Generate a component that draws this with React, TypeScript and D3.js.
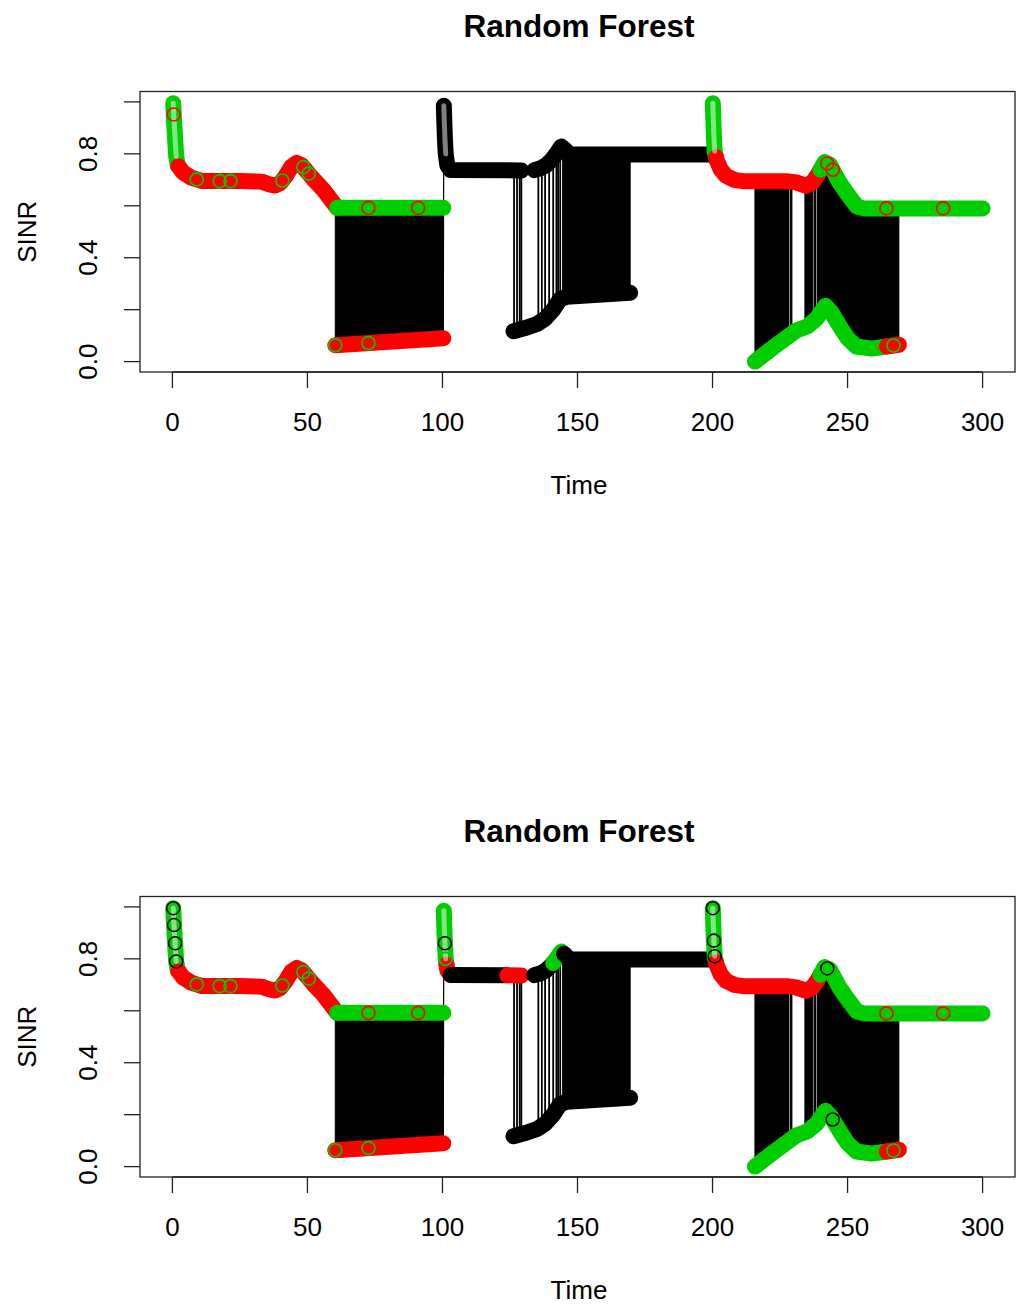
import React from 'react';
import * as d3 from 'd3';

const W = 1019;
const H = 1306;
const RED = '#ff0000';
const GREEN = '#00cd00';
const BLACK = '#000000';

const xTicks = [0, 50, 100, 150, 200, 250, 300];
const yTicks = [0, 0.2, 0.4, 0.6, 0.8, 1.0];
const yLabelTicks = [0, 0.4, 0.8];

type Pt = [number, number];

// upper SINR level, [time, SINR], one array per continuous stretch
const upperA: Pt[] = [[0.3, 0.995], [0.6, 0.93], [1.0, 0.86], [1.4, 0.79], [2, 0.755], [4, 0.728], [7, 0.708], [11, 0.695], [25, 0.695], [33, 0.693], [36, 0.682], [38, 0.678], [40, 0.688], [42, 0.715], [44, 0.75], [46, 0.765], [48, 0.755], [52, 0.705], [56, 0.66], [61, 0.592], [100.3, 0.592]];
const upperB: Pt[] = [[100.5, 0.985], [100.7, 0.92], [100.9, 0.86], [101.2, 0.8], [101.8, 0.755], [103, 0.738], [129.2, 0.736]];
const upperC: Pt[] = [[134, 0.737], [136.5, 0.745], [138.5, 0.757], [140.5, 0.777], [142.5, 0.805], [144, 0.828], [145.5, 0.815], [147, 0.797], [199.6, 0.797]];
const upperD: Pt[] = [[200.1, 0.995], [200.3, 0.93], [200.5, 0.87], [200.8, 0.81], [201.5, 0.777], [203, 0.74], [205, 0.715], [208, 0.7], [212, 0.694], [228, 0.694], [231, 0.69], [234.5, 0.677], [237, 0.69], [239, 0.72], [241.5, 0.768], [243.5, 0.758], [247, 0.69], [250, 0.645], [253.5, 0.597], [256, 0.59], [300, 0.59]];

// lower SINR level
const lowerA: Pt[] = [[60.3, 0.063], [100.3, 0.09]];
const lowerB: Pt[] = [[126.3, 0.117], [131, 0.13], [135, 0.145], [138, 0.165], [141, 0.2], [143.5, 0.24], [146, 0.25], [169.5, 0.265]];
const lowerC: Pt[] = [[215.7, 0.0], [222.5, 0.055], [231, 0.12], [235, 0.135], [238.5, 0.165], [241.8, 0.215], [244, 0.19], [247.2, 0.135], [250, 0.09], [253.3, 0.058], [259, 0.05], [269, 0.065]];

const upperPieces = [upperA, upperB, upperC, upperD];
const lowerPieces = [lowerA, lowerB, lowerC];

// stretches where the series switches between levels every step
const denseSpans: Pt[] = [[60.3, 100.3], [144.5, 169.5], [215.7, 228.3], [228.9, 229.4], [234.2, 237.1], [237.6, 238.3], [238.9, 269]];
// single switches
const switchTimes = [126.5, 127.6, 128.6, 129.2, 135.5, 136.8, 138, 139.5, 141, 142.2, 142.8, 143.6];
// jumps between stretches
const jumps: [Pt, Pt][] = [[[100.3, 0.09], [100.5, 0.985]], [[199.6, 0.797], [200.1, 0.995]], [[129.2, 0.736], [134, 0.737]]];

type Run = [number, number, string];
// colour runs, [from, to, colour]
const upperColors1: Run[] = [[0, 2.2, GREEN], [2.2, 61, RED], [61, 100.3, GREEN], [100.4, 199.7, BLACK], [200, 201.3, GREEN], [201.3, 240, RED], [240, 300, GREEN]];
const lowerColors1: Run[] = [[60, 100.3, RED], [126, 170, BLACK], [215, 264.5, GREEN], [264.5, 270, RED]];
const upperColors2: Run[] = [[0, 2.2, GREEN], [2.2, 61, RED], [61, 100.3, GREEN], [100.4, 101.5, GREEN], [101.5, 103, RED], [103, 124, BLACK], [124, 129.5, RED], [134, 141, BLACK], [141, 145, GREEN], [145, 199.7, BLACK], [200, 201.3, GREEN], [201.3, 240, RED], [240, 300, GREEN]];
const lowerColors2 = lowerColors1;

type Accent = ['u' | 'l', number, string];
// single circles of another colour on top of the band
const accents1: Accent[] = [['u', 0.5, RED], ['u', 9, GREEN], ['u', 17.5, GREEN], ['u', 21.5, GREEN], ['u', 40.7, GREEN], ['u', 48.5, GREEN], ['u', 50.5, GREEN], ['u', 72.6, RED], ['u', 91, RED], ['u', 242.5, RED], ['u', 244.5, RED], ['u', 264.4, RED], ['u', 285.4, RED], ['u', 203, RED], ['l', 60.3, GREEN], ['l', 72.6, GREEN], ['l', 267, GREEN]];
const accents2: Accent[] = [['u', 0.3, BLACK], ['u', 0.6, BLACK], ['u', 1.0, BLACK], ['u', 1.4, BLACK], ['u', 9, GREEN], ['u', 17.5, GREEN], ['u', 21.5, GREEN], ['u', 40.7, GREEN], ['u', 48.5, GREEN], ['u', 50.5, GREEN], ['u', 72.6, RED], ['u', 91, RED], ['u', 100.9, BLACK], ['u', 101.2, GREEN], ['u', 126, RED], ['u', 200.1, BLACK], ['u', 200.5, BLACK], ['u', 200.8, BLACK], ['u', 242.5, BLACK], ['u', 264.4, RED], ['u', 285.4, RED], ['l', 60.3, GREEN], ['l', 72.6, GREEN], ['l', 244.5, BLACK], ['l', 267, GREEN]];

const panels = [
  { dy: 0, upperColors: upperColors1, lowerColors: lowerColors1, accents: accents1 },
  { dy: 805, upperColors: upperColors2, lowerColors: lowerColors2, accents: accents2 },
];

const x = d3.scaleLinear().domain([-12, 312]).range([140, 1015]);
const y = d3.scaleLinear().domain([-0.04, 1.04]).range([372, 91.5]);

const findPiece = (pieces: Pt[][], t: number) =>
  pieces.find(p => t >= p[0][0] - 1e-9 && t <= p[p.length - 1][0] + 1e-9);

const valueAt = (piece: Pt[], t: number) =>
  d3.scaleLinear().domain(piece.map(p => p[0])).range(piece.map(p => p[1])).clamp(true)(t);

const levelAt = (pieces: Pt[][], t: number) => {
  const p = findPiece(pieces, t);
  return p ? valueAt(p, t) : NaN;
};

const line = d3.line<Pt>().x(d => x(d[0])).y(d => y(d[1]));

// part of each stretch that falls inside [a, b]
function subPaths(pieces: Pt[][], a: number, b: number): Pt[][] {
  const out: Pt[][] = [];
  pieces.forEach(p => {
    const lo = Math.max(a, p[0][0]);
    const hi = Math.min(b, p[p.length - 1][0]);
    if (hi <= lo) return;
    const pts: Pt[] = [[lo, valueAt(p, lo)], ...p.filter(d => d[0] > lo && d[0] < hi), [hi, valueAt(p, hi)]];
    out.push(pts);
  });
  return out;
}

function densePath(a: number, b: number) {
  const ts = new Set<number>([a, b]);
  [...upperPieces, ...lowerPieces].forEach(p => p.forEach(d => { if (d[0] > a && d[0] < b) ts.add(d[0]); }));
  const times = Array.from(ts).sort((m, n) => m - n);
  return d3.area<number>()
    .x(t => x(t))
    .y0(t => y(levelAt(lowerPieces, t)))
    .y1(t => y(levelAt(upperPieces, t)))(times) || '';
}

const font = '"Liberation Sans", Arial, Helvetica, sans-serif';
const BAND = 16;

function Panel({ dy, upperColors, lowerColors, accents }: typeof panels[number]) {
  const bands = (pieces: Pt[][], runs: Run[], key: string) =>
    runs.flatMap((r, i) =>
      subPaths(pieces, r[0], r[1]).map((pts, j) => (
        <path key={`${key}-${i}-${j}`} d={line(pts) || ''} fill="none" stroke={r[2]}
          strokeWidth={BAND} strokeLinecap="round" strokeLinejoin="round" />
      )));

  // steep columns at the start of a stretch look like hollow stacked circles
  const columns = [upperA, upperB, upperD].map((p, i) => (
    <path key={`col-${i}`} d={line(p.slice(0, 4)) || ''} fill="none" stroke="#ffffff" strokeOpacity={0.5}
      strokeWidth={5} strokeLinecap="round" />
  ));

  return (
    <g transform={`translate(0, ${dy})`}>
      <text x={579} y={37} textAnchor="middle" fontFamily={font} fontWeight="bold" fontSize={31.5}>Random Forest</text>

      {/* connecting lines */}
      {denseSpans.map((s, i) => (
        <path key={`dense-${i}`} d={densePath(s[0], s[1])} fill={BLACK} stroke={BLACK} strokeWidth={1} />
      ))}
      {switchTimes.map((t, i) => (
        <line key={`sw-${i}`} x1={x(t)} x2={x(t)} y1={y(levelAt(upperPieces, t))} y2={y(levelAt(lowerPieces, t))}
          stroke={BLACK} strokeWidth={1.8} />
      ))}
      {jumps.map((j, i) => (
        <line key={`jump-${i}`} x1={x(j[0][0])} y1={y(j[0][1])} x2={x(j[1][0])} y2={y(j[1][1])} stroke={BLACK} strokeWidth={1.2} />
      ))}
      {upperPieces.map((p, i) => (
        <path key={`ul-${i}`} d={line(p) || ''} fill="none" stroke={BLACK} strokeWidth={1} />
      ))}

      {/* points */}
      {bands(upperPieces, upperColors, 'u')}
      {bands(lowerPieces, lowerColors, 'l')}
      {columns}
      {accents.map((a, i) => {
        const v = levelAt(a[0] === 'u' ? upperPieces : lowerPieces, a[1]);
        return <circle key={`acc-${i}`} cx={x(a[1])} cy={y(v)} r={6.5} fill="none" stroke={a[2]} strokeWidth={1.6} />;
      })}

      {/* frame and axes */}
      <rect x={140} y={91.5} width={875} height={280.5} fill="none" stroke="#222" strokeWidth={1.3} />
      <line x1={x(0)} x2={x(300)} y1={372} y2={372} stroke="#222" strokeWidth={1.3} />
      {xTicks.map(t => (
        <g key={`xt-${t}`}>
          <line x1={x(t)} x2={x(t)} y1={372} y2={388} stroke="#222" strokeWidth={1.3} />
          <text x={x(t)} y={431} textAnchor="middle" fontFamily={font} fontSize={26}>{t}</text>
        </g>
      ))}
      {yTicks.map(t => (
        <line key={`yt-${t}`} x1={124} x2={140} y1={y(t)} y2={y(t)} stroke="#222" strokeWidth={1.3} />
      ))}
      {yLabelTicks.map(t => (
        <text key={`yl-${t}`} transform={`translate(97, ${y(t)}) rotate(-90)`} textAnchor="middle"
          fontFamily={font} fontSize={26}>{t.toFixed(1)}</text>
      ))}
      <text x={579} y={494} textAnchor="middle" fontFamily={font} fontSize={26}>Time</text>
      <text transform={`translate(36, ${(91.5 + 372) / 2}) rotate(-90)`} textAnchor="middle"
        fontFamily={font} fontSize={26}>SINR</text>
    </g>
  );
}

export default function App() {
  return (
    <div style={{ position: 'absolute', left: 0, top: 0 }}>
      <svg width={W} height={H} viewBox={`0 0 ${W} ${H}`} style={{ display: 'block', background: '#fff' }}>
        {panels.map((p, i) => <Panel key={i} {...p} />)}
      </svg>
    </div>
  );
}
